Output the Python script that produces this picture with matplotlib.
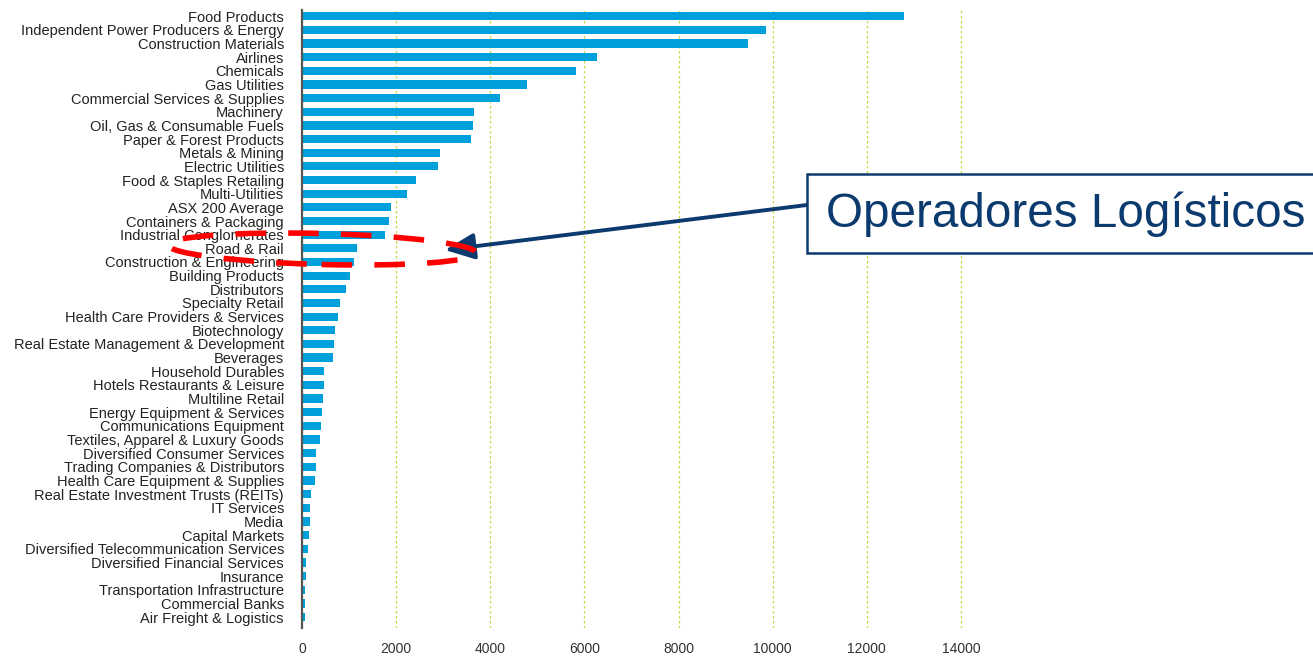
import matplotlib.pyplot as plt
from matplotlib.patches import Ellipse, Rectangle

# industries, top to bottom
industries = [
    "Food Products", "Independent Power Producers & Energy", "Construction Materials",
    "Airlines", "Chemicals", "Gas Utilities", "Commercial Services & Supplies",
    "Machinery", "Oil, Gas & Consumable Fuels", "Paper & Forest Products",
    "Metals & Mining", "Electric Utilities", "Food & Staples Retailing",
    "Multi-Utilities", "ASX 200 Average", "Containers & Packaging",
    "Industrial Conglomerates", "Road & Rail", "Construction & Engineering",
    "Building Products", "Distributors", "Specialty Retail",
    "Health Care Providers & Services", "Biotechnology",
    "Real Estate Management & Development", "Beverages", "Household Durables",
    "Hotels Restaurants & Leisure", "Multiline Retail", "Energy Equipment & Services",
    "Communications Equipment", "Textiles, Apparel & Luxury Goods",
    "Diversified Consumer Services", "Trading Companies & Distributors",
    "Health Care Equipment & Supplies", "Real Estate Investment Trusts (REITs)",
    "IT Services", "Media", "Capital Markets", "Diversified Telecommunication Services",
    "Diversified Financial Services", "Insurance", "Transportation Infrastructure",
    "Commercial Banks", "Air Freight & Logistics",
]
values = [
    12800, 9850, 9470, 6260, 5830, 4790, 4210, 3660, 3640, 3600,
    2930, 2900, 2420, 2230, 1900, 1850, 1760, 1160, 1100, 1010,
    940, 800, 760, 700, 680, 660, 470, 470, 450, 420,
    400, 375, 300, 290, 280, 195, 175, 175, 150, 130,
    80, 80, 55, 55, 55,
]
xticks = [0, 2000, 4000, 6000, 8000, 10000, 12000, 14000]

plt.rcParams['font.family'] = ['Liberation Sans', 'DejaVu Sans']

W, H = 1313, 656
fig = plt.figure(figsize=(W / 100, H / 100), dpi=100)
ax = fig.add_axes([302 / W, 1 - 628 / H, 706 / W, 618 / H])

pos = list(range(len(industries)))
ax.barh(pos, values, height=0.6, color='#00a0dc', zorder=3)
ax.set_ylim(44.8, -0.45)
ax.set_xlim(0, 15000)
ax.set_yticks(pos)
ax.set_yticklabels(industries, fontsize=10.5, color='#222222')
ax.set_xticks(xticks)
ax.set_xticklabels([str(t) for t in xticks], fontsize=10, color='#333333')
ax.tick_params(axis='y', length=0, pad=13)
ax.tick_params(axis='x', length=0, pad=10)
for s in ['top', 'right', 'bottom']:
    ax.spines[s].set_visible(False)
ax.spines['left'].set_color('#555555')
ax.spines['left'].set_linewidth(1.6)
ax.spines['left'].set_zorder(4)
ax.grid(axis='x', color='#c6da40', linestyle=(0, (2, 2)), linewidth=0.9, zorder=0)
ax.grid(axis='y', visible=False)

# red dashed ellipse around the logistics rows (figure pixels)
ell = Ellipse((322, H - 249), 308, 31, angle=-1.5, fill=False, edgecolor='#ff0000',
              linewidth=4.0, linestyle=(0, (5.5, 4)), transform=None, zorder=10)
fig.patches.append(ell)

# call-out box with arrow
box = Rectangle((807, H - 253), 520, 79, facecolor='white', edgecolor='#0b3a6e',
                linewidth=1.8, transform=None, zorder=10)
fig.patches.append(box)
fig.text(826 / W, 1 - 214 / H, "Operadores Logísticos", fontsize=34.3,
         color='#0b3a6e', va='center', ha='left', zorder=11)
ax.annotate("", xy=(445, H - 250), xycoords='figure pixels',
            xytext=(807, H - 205), textcoords='figure pixels',
            arrowprops=dict(arrowstyle='-|>,head_length=1.8,head_width=0.8',
                            color='#0b3a6e', lw=2.8, shrinkA=0, shrinkB=0),
            annotation_clip=False, zorder=12)

fig.savefig('out.png', dpi=100)
